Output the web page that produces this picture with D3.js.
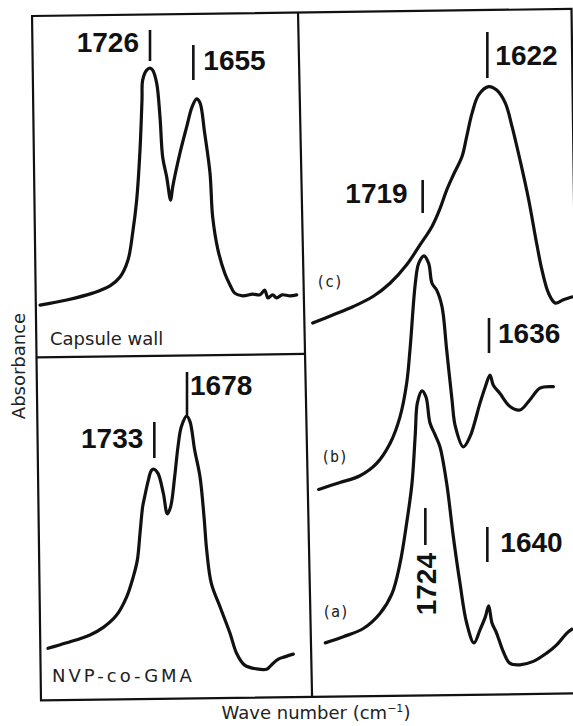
<!DOCTYPE html>
<html>
<head>
<meta charset="utf-8">
<script src="https://cdn.jsdelivr.net/npm/d3@7"></script>
<style>
  body { margin: 0; background: #fff; }
  .frame { fill: none; stroke: #111; stroke-width: 2.2; }
  .spec { fill: none; stroke: #111; stroke-width: 3.2; stroke-linejoin: round; stroke-linecap: round; }
  .bar { stroke: #111; stroke-width: 2.6; }
  .peak { font-family: "Liberation Sans", Arial, sans-serif; font-weight: bold; font-size: 28px; fill: #111; }
  .name { font-family: "DejaVu Sans", sans-serif; font-size: 18px; fill: #222; }
  .tag { font-family: "DejaVu Sans Mono", monospace; font-size: 15px; fill: #222; }
  .axisLabel { font-family: "DejaVu Sans", sans-serif; font-size: 18px; fill: #222; }
</style>
</head>
<body>
<script>
// spectra (wave number in cm-1, absorbance in arbitrary units)
const capsuleWave = [1894,1854,1815,1789,1774,1762,1755,1749,1744,1741,1740,1734,1729,1725,1719,1714,1710,1704,1698,1695,1684,1674,1666,1659,1654,1647,1639,1635,1627,1617,1609,1602,1590,1575,1564,1557,1552,1545,1539,1531,1519,1509];
const capsuleAbs = [0.143,0.158,0.178,0.199,0.225,0.275,0.354,0.450,0.596,0.743,0.801,0.830,0.836,0.830,0.792,0.693,0.576,0.518,0.450,0.488,0.588,0.664,0.722,0.746,0.734,0.646,0.529,0.401,0.304,0.237,0.202,0.178,0.170,0.175,0.173,0.187,0.164,0.173,0.164,0.173,0.170,0.173];

const nvpWave = [1882,1854,1819,1799,1779,1764,1754,1748,1744,1740,1737,1732,1727,1723,1717,1709,1703,1698,1692,1687,1682,1674,1669,1662,1654,1648,1644,1637,1624,1609,1599,1587,1569,1554,1547,1537,1527,1514];
const nvpAbs = [0.142,0.158,0.181,0.203,0.239,0.292,0.351,0.399,0.477,0.555,0.584,0.628,0.660,0.664,0.652,0.594,0.534,0.555,0.642,0.730,0.788,0.819,0.803,0.720,0.642,0.526,0.429,0.331,0.263,0.186,0.127,0.093,0.082,0.081,0.093,0.110,0.117,0.125];

const cWave = [1890,1859,1829,1799,1774,1749,1729,1711,1699,1689,1679,1666,1659,1651,1641,1626,1614,1601,1591,1579,1566,1554,1546,1536,1526,1514,1501];
const cAbs = [0.546,0.558,0.570,0.585,0.604,0.631,0.660,0.687,0.713,0.740,0.762,0.789,0.818,0.852,0.879,0.891,0.886,0.867,0.833,0.784,0.726,0.662,0.623,0.589,0.575,0.580,0.584];

const bWave = [1881,1849,1819,1794,1774,1759,1749,1744,1736,1731,1723,1716,1711,1704,1696,1689,1681,1676,1664,1654,1639,1631,1624,1619,1609,1594,1579,1564,1549,1529];
const bAbs = [0.303,0.313,0.323,0.341,0.370,0.409,0.458,0.507,0.604,0.633,0.644,0.633,0.604,0.594,0.570,0.507,0.434,0.395,0.365,0.380,0.429,0.453,0.470,0.455,0.443,0.424,0.419,0.434,0.451,0.453];

const aWave = [1871,1844,1814,1789,1771,1759,1749,1741,1736,1733,1726,1720,1714,1706,1699,1689,1679,1669,1659,1648,1639,1631,1626,1621,1614,1604,1594,1579,1559,1539,1524,1509,1501];
const aAbs = [0.079,0.088,0.100,0.122,0.151,0.195,0.254,0.312,0.385,0.429,0.447,0.438,0.400,0.382,0.365,0.312,0.234,0.166,0.108,0.079,0.098,0.117,0.133,0.108,0.093,0.066,0.049,0.047,0.052,0.064,0.076,0.093,0.099];

const panelNames = ["Capsule wall", "NVP-co-GMA"];
const curveTags = ["(c)", "(b)", "(a)"];
const capsulePeaks = [1726, 1655];
const nvpPeaks = [1733, 1678];
const rightPeaks = [1622, 1719, 1636, 1640, 1724];

const w = 573, h = 726;

const svg = d3.select("body")
    .append("svg")
    .attr("width", w)
    .attr("height", h);

// scales (wave number runs right to left)
let xLeft = d3.scaleLinear().domain([1900, 1495]).range([36, 306]);
let xRight = d3.scaleLinear().domain([1900, 1495]).range([306, 576]);
let yTop = d3.scaleLinear().domain([0, 1]).range([354, 12]);
let yBottom = d3.scaleLinear().domain([0, 1]).range([697, 354]);
let yRight = d3.scaleLinear().domain([0, 1]).range([697, 12]);

// the scan is a little tilted: frame drawn rotated
const frame = svg.append("g").attr("transform", "rotate(-0.75,300,355)");
frame.append("rect")
    .attr("class", "frame")
    .attr("x", 36.5).attr("y", 12.5)
    .attr("width", 539.5).attr("height", 684.5);
frame.append("line")
    .attr("class", "frame")
    .attr("x1", 302.5).attr("y1", 12.5)
    .attr("x2", 307.6).attr("y2", 697);
frame.append("line")
    .attr("class", "frame")
    .attr("x1", 36.5).attr("y1", 354)
    .attr("x2", 305).attr("y2", 354);

function drawSpectrum(wave, abs, x, y) {
    let line = d3.line()
        .x(d => x(d[0]))
        .y(d => y(d[1]))
        .curve(d3.curveCatmullRom.alpha(0.5));
    svg.append("path")
        .datum(d3.zip(wave, abs))
        .attr("class", "spec")
        .attr("d", line);
}

drawSpectrum(capsuleWave, capsuleAbs, xLeft, yTop);
drawSpectrum(nvpWave, nvpAbs, xLeft, yBottom);
drawSpectrum(cWave, cAbs, xRight, yRight);
drawSpectrum(bWave, bAbs, xRight, yRight);
drawSpectrum(aWave, aAbs, xRight, yRight);

// peak markers: bar offset, bar extent, text side/offset, baseline
const peakLayout = {
    1726: {dx: -2, y1: 30, y2: 61, side: "left", gap: 11, ty: 52},
    1655: {dx: -6, y1: 45, y2: 80, side: "right", gap: 10, ty: 70},
    1733: {dx: 7, y1: 422, y2: 458, side: "left", gap: 11, ty: 448},
    1678: {dx: 3, y1: 372, y2: 415, side: "right", gap: 3, ty: 395},
    1622: {dx: -4, y1: 32, y2: 78, side: "right", gap: 8, ty: 65},
    1719: {dx: -4, y1: 180, y2: 213, side: "left", gap: 15, ty: 203},
    1636: {dx: 7, y1: 318, y2: 353, side: "right", gap: 9, ty: 343},
    1640: {dx: 8, y1: 527, y2: 562, side: "right", gap: 13, ty: 552},
    1724: {dx: 2, y1: 508, y2: 545, side: "vertical", gap: 11, ty: 553}
};

function drawPeaks(peaks, x) {
    peaks.forEach(p => {
        let L = peakLayout[p];
        let bx = x(p) + L.dx;
        svg.append("line")
            .attr("class", "bar")
            .attr("x1", bx).attr("x2", bx)
            .attr("y1", L.y1).attr("y2", L.y2);
        let t = svg.append("text").attr("class", "peak").text(p);
        if (L.side === "vertical") {
            t.attr("text-anchor", "end")
             .attr("transform", `translate(${bx + L.gap},${L.ty}) rotate(-90)`);
        } else if (L.side === "left") {
            t.attr("text-anchor", "end").attr("x", bx - L.gap).attr("y", L.ty);
        } else {
            t.attr("x", bx + L.gap).attr("y", L.ty);
        }
    });
}

drawPeaks(capsulePeaks, xLeft);
drawPeaks(nvpPeaks, xLeft);
drawPeaks(rightPeaks, xRight);

svg.append("text")
    .attr("class", "name")
    .attr("x", 50).attr("y", 345)
    .text(panelNames[0]);

svg.append("text")
    .attr("class", "name")
    .attr("x", 52).attr("y", 682)
    .attr("letter-spacing", 3)
    .text(panelNames[1]);

const tagPos = [[316, 287], [321, 462], [322, 617]];
svg.selectAll(".tag")
    .data(curveTags)
    .enter().append("text")
    .attr("class", "tag")
    .attr("x", (d, i) => tagPos[i][0])
    .attr("y", (d, i) => tagPos[i][1])
    .text(d => d);

svg.append("text")
    .attr("class", "axisLabel")
    .attr("text-anchor", "middle")
    .attr("transform", "translate(25,366) rotate(-90)")
    .text("Absorbance");

let xTitle = svg.append("text")
    .attr("class", "axisLabel")
    .attr("text-anchor", "middle")
    .attr("x", 316).attr("y", 719);
xTitle.append("tspan").text("Wave number (cm");
xTitle.append("tspan").attr("dy", -7).attr("font-size", 11).text("\u22121");
xTitle.append("tspan").attr("dy", 7).text(")");
</script>
</body>
</html>
